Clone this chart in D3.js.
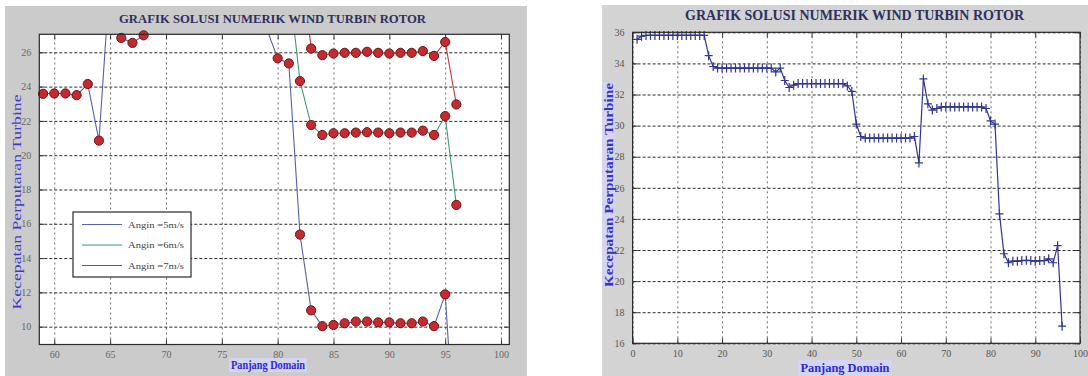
<!DOCTYPE html>
<html><head><meta charset="utf-8">
<script src="https://cdn.jsdelivr.net/npm/d3@7"></script>
<style>body{margin:0;background:#fff;overflow:hidden}svg{display:block}</style>
</head><body>
<svg id="chart" width="1088" height="376"></svg>
<script>
// ---------- text ----------
const titleText = "GRAFIK SOLUSI NUMERIK WIND TURBIN ROTOR";
const yLabelText = "Kecepatan Perputaran Turbine";
const xLabelText = "Panjang Domain";
const legendLabels = ["Angin =5m/s", "Angin =6m/s", "Angin =7m/s"];

// ---------- left panel data (x = domain position) ----------
const leftX = [59,60,61,62,63,64,65,66,67,68,69,70,71,72,73,74,75,76,77,78,
               79,80,81,82,83,84,85,86,87,88,89,90,91,92,93,94,95,96];
const wind5 = [23.58,23.6,23.6,23.5,24.15,20.85,30.5,26.84,26.55,26.99,28.2,28.6,28.6,28.6,28.6,28.6,28.6,28.6,28.6,28.4,
               27.4,25.65,25.35,15.37,10.95,10.03,10.1,10.2,10.3,10.3,10.25,10.25,10.2,10.2,10.3,10.03,11.88,2.0];
const wind7 = [33.9,33.9,33.9,33.9,33.9,32.3,37.7,35.7,35.9,35.9,35.9,35.9,35.9,35.9,35.9,35.9,35.9,35.9,35.9,35.9,
               35.9,35.0,34.8,32.0,26.22,25.83,25.93,25.97,25.97,26.03,25.97,25.93,25.97,25.97,26.07,25.79,26.6,22.96];

// ---------- 6 m/s series (left green line, right panel line) ----------
const fullX = [1,2,3,4,5,6,7,8,9,10,11,12,13,14,15,16,17,18,19,20,21,22,23,24,25,26,27,28,29,30,
               31,32,33,34,35,36,37,38,39,40,41,42,43,44,45,46,47,48,49,50,51,52,53,54,55,56,57,58,59,60,
               61,62,63,64,65,66,67,68,69,70,71,72,73,74,75,76,77,78,79,80,81,82,83,84,85,86,87,88,89,90,
               91,92,93,94,95,96];
const wind6 = [35.55,35.75,35.8,35.8,35.8,35.8,35.8,35.8,35.8,35.8,35.8,35.8,35.8,35.8,35.8,35.8,34.5,33.8,33.7,33.7,
               33.7,33.7,33.7,33.7,33.7,33.7,33.7,33.7,33.7,33.7,33.7,33.45,33.7,32.9,32.45,32.6,32.7,32.7,32.7,32.7,
               32.7,32.7,32.7,32.7,32.7,32.7,32.7,32.55,32.2,30.1,29.3,29.2,29.2,29.2,29.2,29.2,29.2,29.2,29.2,29.2,
               29.2,29.2,29.3,27.6,33.0,31.4,31.0,31.1,31.2,31.2,31.2,31.2,31.2,31.2,31.2,31.2,31.2,31.2,31.1,30.3,
               30.1,24.32,21.76,21.18,21.28,21.28,21.32,21.34,21.32,21.28,21.32,21.32,21.43,21.18,22.28,17.1];

// ---------- ticks ----------
const leftXTicks = [60,65,70,75,80,85,90,95,100];
const leftYTicks = [10,12,14,16,18,20,22,24,26];
const rightXTicks = [0,10,20,30,40,50,60,70,80,90,100];
const rightYTicks = [16,18,20,22,24,26,28,30,32,34,36];

const svg = d3.select("#chart");
const serif = "'Liberation Serif','Times New Roman',serif";

// panel backgrounds
svg.append("rect").attr("x",5).attr("y",6).attr("width",522).attr("height",370).attr("fill","#cbcbcb");
svg.append("rect").attr("x",602).attr("y",5).attr("width",486).attr("height",371).attr("fill","#d3d3d3");

function drawFrame(g, x, y, xt, yt, opt){
  const [x0,x1] = x.range(), [y0,y1] = y.range(); // y0 bottom, y1 top
  g.append("rect").attr("x",x0).attr("y",y1).attr("width",x1-x0).attr("height",y0-y1).attr("fill","#fff");
  // vertical grid
  g.append("g").attr("transform",`translate(0,${y0})`)
    .call(d3.axisBottom(x).tickValues(xt).tickSize(-(y0-y1)).tickFormat(""))
    .call(s=>s.select(".domain").remove())
    .call(s=>s.selectAll("line").attr("stroke","#6a6a6a").attr("stroke-dasharray","2,3"));
  // horizontal grid
  g.append("g").attr("transform",`translate(${x0},0)`)
    .call(d3.axisLeft(y).tickValues(yt).tickSize(-(x1-x0)).tickFormat(""))
    .call(s=>s.select(".domain").remove())
    .call(s=>s.selectAll("line").attr("stroke","#2a2a2a").attr("stroke-dasharray","3,2"));
  // inner ticks
  const tk = 5;
  g.append("g").attr("transform",`translate(0,${y0})`).call(d3.axisBottom(x).tickValues(xt).tickSizeInner(-tk).tickSizeOuter(0).tickFormat(""))
    .call(s=>s.select(".domain").remove()).selectAll("line").attr("stroke","#333");
  g.append("g").attr("transform",`translate(0,${y1})`).call(d3.axisTop(x).tickValues(xt).tickSizeInner(-tk).tickSizeOuter(0).tickFormat(""))
    .call(s=>s.select(".domain").remove()).selectAll("line").attr("stroke","#333");
  g.append("g").attr("transform",`translate(${x0},0)`).call(d3.axisLeft(y).tickValues(yt).tickSizeInner(-tk).tickSizeOuter(0).tickFormat(""))
    .call(s=>s.select(".domain").remove()).selectAll("line").attr("stroke","#333");
  g.append("g").attr("transform",`translate(${x1},0)`).call(d3.axisRight(y).tickValues(yt).tickSizeInner(-tk).tickSizeOuter(0).tickFormat(""))
    .call(s=>s.select(".domain").remove()).selectAll("line").attr("stroke","#333");
  // tick labels
  g.append("g").attr("transform",`translate(0,${y0})`)
    .call(d3.axisBottom(x).tickValues(xt).tickSize(0).tickPadding(opt.xPad).tickFormat(d3.format("d")))
    .call(s=>s.select(".domain").remove())
    .call(s=>s.selectAll("text").attr("font-family",serif).attr("font-size",opt.fs).attr("fill",opt.tc));
  g.append("g").attr("transform",`translate(${x0},0)`)
    .call(d3.axisLeft(y).tickValues(yt).tickSize(0).tickPadding(opt.yPad).tickFormat(d3.format("d")))
    .call(s=>s.select(".domain").remove())
    .call(s=>s.selectAll("text").attr("font-family",serif).attr("font-size",opt.fs).attr("fill",opt.tc));
}
function drawBox(g, x, y){
  const [x0,x1] = x.range(), [y0,y1] = y.range();
  g.append("rect").attr("x",x0).attr("y",y1).attr("width",x1-x0).attr("height",y0-y1)
   .attr("fill","none").attr("stroke","#2a2a2a").attr("stroke-width",1.2);
}

// ================= LEFT PANEL =================
const xL = d3.scaleLinear().domain([58.66,100.74]).range([39.3,509.3]);
const yL = d3.scaleLinear().domain([8.96,27.05]).range([344.5,34.3]);
const gL = svg.append("g");
drawFrame(gL, xL, yL, leftXTicks, leftYTicks, {fs:10, tc:"#666", xPad:6, yPad:8});

svg.append("defs").append("clipPath").attr("id","clipL").append("rect")
  .attr("x",39.3).attr("y",34.3).attr("width",470).attr("height",310.2);

const leftSeries = [
  {name:legendLabels[0], color:"#5561a8", xs:leftX, ys:wind5},
  {name:legendLabels[1], color:"#3f9a6c", xs:fullX.filter(v=>v>=59), ys:wind6.filter((v,i)=>fullX[i]>=59)},
  {name:legendLabels[2], color:"#c83434", xs:leftX, ys:wind7}
];
const [yLmin,yLmax] = yL.domain();
leftSeries.forEach(s=>{
  const pts = s.xs.map((v,i)=>({x:v,y:s.ys[i]}));
  gL.append("path").datum(pts).attr("clip-path","url(#clipL)")
    .attr("fill","none").attr("stroke",s.color).attr("stroke-width",1.1)
    .attr("d", d3.line().x(d=>xL(d.x)).y(d=>yL(d.y)));
  gL.append("g").selectAll("circle").data(pts.filter(d=>d.y>=yLmin && d.y<=yLmax)).join("circle")
    .attr("cx",d=>xL(d.x)).attr("cy",d=>yL(d.y)).attr("r",4.6)
    .attr("fill","#c42a2e").attr("stroke","#6e1417").attr("stroke-width",1);
});
drawBox(gL, xL, yL);

// legend
const lg = gL.append("g");
lg.append("rect").attr("x",73).attr("y",212).attr("width",118).attr("height",65)
  .attr("fill","#fff").attr("stroke","#2a2a2a").attr("stroke-width",1.2);
const legY = [224.5,245,265.5];
leftSeries.forEach((s,i)=>{
  lg.append("line").attr("x1",82).attr("x2",122).attr("y1",legY[i]).attr("y2",legY[i])
    .attr("stroke",s.color).attr("stroke-width",1.2);
  lg.append("text").attr("x",128).attr("y",legY[i]).attr("dy","0.35em")
    .attr("font-family",serif).attr("font-size",9).attr("fill","#444")
    .attr("textLength",56).attr("lengthAdjust","spacingAndGlyphs").text(s.name);
});

// titles & labels left
gL.append("text").attr("x",272.5).attr("y",22.6).attr("text-anchor","middle")
  .attr("font-family",serif).attr("font-weight","bold").attr("font-size",12.8).attr("fill","#2d3160")
  .attr("textLength",307).attr("lengthAdjust","spacingAndGlyphs").text(titleText);
gL.append("text").attr("transform","translate(17,202) rotate(-90)").attr("text-anchor","middle")
  .attr("dy","0.35em").attr("font-family",serif).attr("font-size",12).attr("fill","#3b3bc8")
  .attr("textLength",215).attr("lengthAdjust","spacingAndGlyphs").text(yLabelText);
gL.append("rect").attr("x",229).attr("y",358).attr("width",78).attr("height",14).attr("fill","#d3d5f2");
gL.append("text").attr("x",268).attr("y",369).attr("text-anchor","middle")
  .attr("font-family",serif).attr("font-weight","bold").attr("font-size",11.5).attr("fill","#2a2ad2")
  .attr("textLength",74).attr("lengthAdjust","spacingAndGlyphs").text(xLabelText);

// ================= RIGHT PANEL =================
const xR = d3.scaleLinear().domain([0,100]).range([632.6,1080]);
const yR = d3.scaleLinear().domain([16,36]).range([343.3,32.3]);
const gR = svg.append("g");
drawFrame(gR, xR, yR, rightXTicks, rightYTicks, {fs:10, tc:"#555", xPad:7, yPad:8});

const rpts = fullX.map((v,i)=>({x:v,y:wind6[i]}));
gR.append("path").datum(rpts).attr("fill","none").attr("stroke","#2f3590").attr("stroke-width",1.2)
  .attr("d", d3.line().x(d=>xR(d.x)).y(d=>yR(d.y)));
const plus = gR.append("g").attr("stroke","#2f3590").attr("stroke-width",1.2);
plus.selectAll("path").data(rpts).join("path")
  .attr("d",d=>{const cx=xR(d.x), cy=yR(d.y); return `M${cx-4},${cy}H${cx+4}M${cx},${cy-4.5}V${cy+4.5}`;});
drawBox(gR, xR, yR);

gR.append("text").attr("x",854.5).attr("y",20).attr("text-anchor","middle")
  .attr("font-family",serif).attr("font-weight","bold").attr("font-size",15).attr("fill","#2d3160")
  .attr("textLength",339).attr("lengthAdjust","spacingAndGlyphs").text(titleText);
gR.append("rect").attr("x",602).attr("y",82).attr("width",13).attr("height",206).attr("fill","#d3d5f2");
gR.append("text").attr("transform","translate(608.5,185) rotate(-90)").attr("text-anchor","middle")
  .attr("dy","0.35em").attr("font-family",serif).attr("font-weight","bold").attr("font-size",11.5).attr("fill","#3434c4")
  .attr("textLength",204).attr("lengthAdjust","spacingAndGlyphs").text(yLabelText);
gR.append("rect").attr("x",798).attr("y",360).attr("width",94).attr("height",16).attr("fill","#d3d5f2");
gR.append("text").attr("x",845).attr("y",372).attr("text-anchor","middle")
  .attr("font-family",serif).attr("font-weight","bold").attr("font-size",13).attr("fill","#2a2ad2")
  .attr("textLength",89).attr("lengthAdjust","spacingAndGlyphs").text(xLabelText);
</script>
</body></html>
